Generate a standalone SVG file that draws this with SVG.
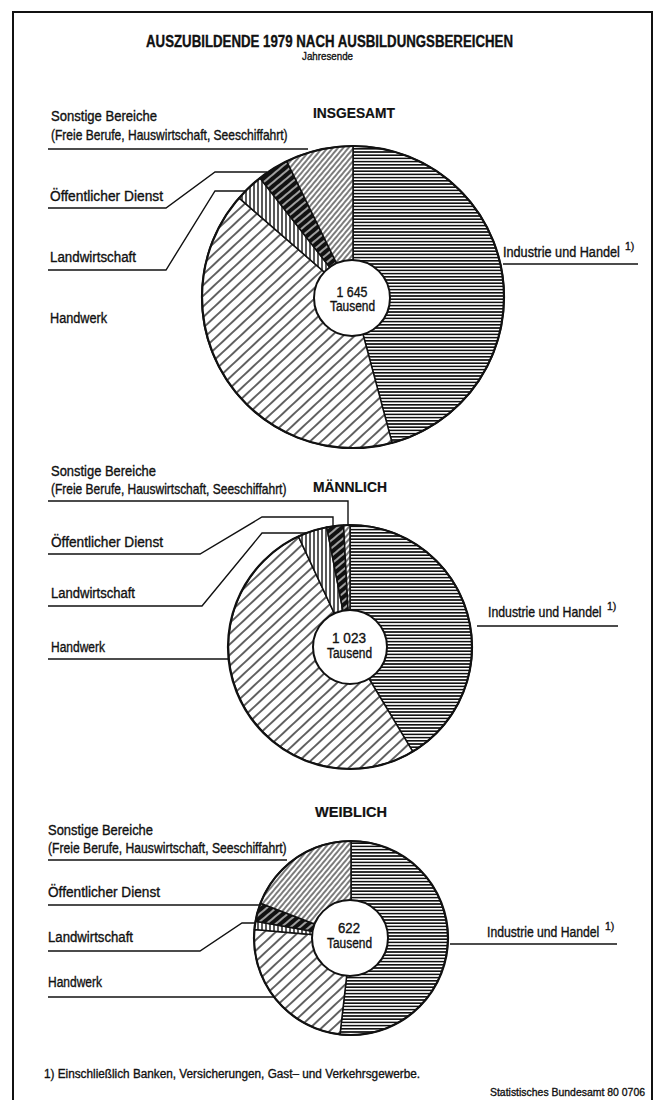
<svg xmlns="http://www.w3.org/2000/svg" width="659" height="1100" viewBox="0 0 659 1100">
<style>
.t{font-family:"Liberation Sans Narrow","Liberation Sans",Arial,sans-serif;fill:#111;stroke:#111;stroke-width:0.35;}
.lab{font-size:14px;}
.hd{font-size:15px;font-weight:bold;stroke-width:0.2;}
.sup{font-size:10.5px;}
.ctr{font-size:14px;text-anchor:middle;}
.ld{fill:none;stroke:#111;stroke-width:1.4;stroke-linejoin:miter;}
.sl{stroke:#111;stroke-width:1.5;stroke-linejoin:round;}
.rim{fill:none;stroke:#111;stroke-width:2.2;}
.hole{fill:#fff;stroke:#111;stroke-width:2;}
.frame{fill:none;stroke:#111;stroke-width:2;}
</style>
<defs>
<pattern id="pInd" width="6" height="3.2" patternUnits="userSpaceOnUse">
<rect width="6" height="3.2" fill="#fff"/>
<line x1="0" y1="1.6" x2="6" y2="1.6" stroke="#111" stroke-width="1.6"/>
</pattern>
<pattern id="pHand" width="10" height="7.8" patternUnits="userSpaceOnUse" patternTransform="rotate(-43)">
<rect width="10" height="7.8" fill="#fff"/>
<line x1="0" y1="3.9" x2="10" y2="3.9" stroke="#111" stroke-width="1.3"/>
</pattern>
<pattern id="pSon" width="10" height="4" patternUnits="userSpaceOnUse" patternTransform="rotate(-50)">
<rect width="10" height="4" fill="#fff"/>
<line x1="0" y1="2" x2="10" y2="2" stroke="#111" stroke-width="1.1"/>
</pattern>
<pattern id="pLand" width="4" height="10" patternUnits="userSpaceOnUse">
<rect width="4" height="10" fill="#fff"/>
<line x1="2" y1="0" x2="2" y2="10" stroke="#111" stroke-width="1.4"/>
</pattern>
<pattern id="pOed" width="10" height="6" patternUnits="userSpaceOnUse" patternTransform="rotate(-40)">
<rect width="10" height="6" fill="#111"/>
<line x1="0" y1="3" x2="10" y2="3" stroke="#fff" stroke-width="1.2"/>
</pattern>
</defs>
<rect width="659" height="1100" fill="#fff"/>
<g id="frame">
<path class="frame" d="M13,1100 L13,12 L652,12 L652,1100"/>
</g>
<g id="title">
<text class="t" x="329.5" y="47" font-size="16" font-weight="bold" stroke-width="0.2" text-anchor="middle" textLength="367" lengthAdjust="spacingAndGlyphs">AUSZUBILDENDE 1979 NACH AUSBILDUNGSBEREICHEN</text>
<text class="t" x="327.5" y="60" font-size="11.5" text-anchor="middle" textLength="51" lengthAdjust="spacingAndGlyphs">Jahresende</text>
</g>

<!-- PIE 1 INSGESAMT -->
<g id="pie-insgesamt">
<text class="t hd" x="313" y="118" textLength="82" lengthAdjust="spacingAndGlyphs">INSGESAMT</text>
<g id="p1-industrie"><path class="sl" fill="url(#pInd)" d="M353,297 L353,146 A151,151 0 0 1 392.1,442.9 Z"/></g>
<g id="p1-handwerk"><path class="sl" fill="url(#pHand)" d="M353,297 L392.1,442.9 A151,151 0 0 1 239.0,197.9 Z"/></g>
<g id="p1-landwirtschaft"><path class="sl" fill="url(#pLand)" d="M353,297 L239.0,197.9 A151,151 0 0 1 260.0,178.0 Z"/></g>
<g id="p1-oed"><path class="sl" fill="url(#pOed)" d="M353,297 L260.0,178.0 A151,151 0 0 1 286.8,161.3 Z"/></g>
<g id="p1-sonstige"><path class="sl" fill="url(#pSon)" d="M353,297 L286.8,161.3 A151,151 0 0 1 353,146 Z"/></g>
<circle class="rim" cx="353" cy="297" r="151"/>
<g id="p1-center">
<circle class="hole" cx="352" cy="298" r="38"/>
<text class="t ctr" x="352" y="297" textLength="31" lengthAdjust="spacingAndGlyphs">1 645</text>
<text class="t ctr" x="352.5" y="311" textLength="45" lengthAdjust="spacingAndGlyphs">Tausend</text>
</g>
</g>
<g id="labels-insgesamt">
<text class="t lab" x="51" y="121" textLength="106" lengthAdjust="spacingAndGlyphs">Sonstige Bereiche</text>
<text class="t lab" transform="translate(51,140) scale(0.861,1)">(Freie Berufe, Hauswirtschaft, Seeschiffahrt)</text>
<text class="t lab" x="50" y="201" textLength="113" lengthAdjust="spacingAndGlyphs">Öffentlicher Dienst</text>
<text class="t lab" x="50" y="262" textLength="86" lengthAdjust="spacingAndGlyphs">Landwirtschaft</text>
<text class="t lab" x="50" y="323" textLength="57" lengthAdjust="spacingAndGlyphs">Handwerk</text>
<text class="t lab" transform="translate(503,257) scale(0.905,1)">Industrie und Handel</text>
<text class="t sup" x="625" y="250">1)</text>
</g>

<!-- PIE 2 MAENNLICH -->
<g id="pie-maennlich">
<text class="t hd" x="313" y="492" textLength="74" lengthAdjust="spacingAndGlyphs">MÄNNLICH</text>
<g id="p2-industrie"><path class="sl" fill="url(#pInd)" d="M350,647 L350,525 A122,122 0 0 1 412.8,751.6 Z"/></g>
<g id="p2-handwerk"><path class="sl" fill="url(#pHand)" d="M350,647 L412.8,751.6 A122,122 0 1 1 298.4,536.4 Z"/></g>
<g id="p2-landwirtschaft"><path class="sl" fill="url(#pLand)" d="M350,647 L298.4,536.4 A122,122 0 0 1 326.7,527.2 Z"/></g>
<g id="p2-oed"><path class="sl" fill="url(#pOed)" d="M350,647 L326.7,527.2 A122,122 0 0 1 343.6,525.2 Z"/></g>
<g id="p2-sonstige"><path class="sl" fill="url(#pSon)" d="M350,647 L343.6,525.2 A122,122 0 0 1 350,525 Z"/></g>
<circle class="rim" cx="350" cy="647" r="122"/>
<g id="p2-center">
<circle class="hole" cx="350" cy="647" r="37"/>
<text class="t ctr" x="349" y="643" textLength="34" lengthAdjust="spacingAndGlyphs">1 023</text>
<text class="t ctr" x="349.5" y="658" textLength="45" lengthAdjust="spacingAndGlyphs">Tausend</text>
</g>
</g>
<g id="labels-maennlich">
<text class="t lab" x="51" y="476" textLength="105" lengthAdjust="spacingAndGlyphs">Sonstige Bereiche</text>
<text class="t lab" transform="translate(51,494) scale(0.857,1)">(Freie Berufe, Hauswirtschaft, Seeschiffahrt)</text>
<text class="t lab" x="51" y="547" textLength="112" lengthAdjust="spacingAndGlyphs">Öffentlicher Dienst</text>
<text class="t lab" x="51" y="598" textLength="84" lengthAdjust="spacingAndGlyphs">Landwirtschaft</text>
<text class="t lab" x="51" y="652" textLength="54" lengthAdjust="spacingAndGlyphs">Handwerk</text>
<text class="t lab" transform="translate(488,617) scale(0.88,1)">Industrie und Handel</text>
<text class="t sup" x="607" y="610">1)</text>
</g>

<!-- PIE 3 WEIBLICH -->
<g id="pie-weiblich">
<text class="t hd" x="315" y="817" textLength="72" lengthAdjust="spacingAndGlyphs">WEIBLICH</text>
<g id="p3-industrie"><path class="sl" fill="url(#pInd)" d="M351,938 L351,841 A97,97 0 1 1 340.0,1034.4 Z"/></g>
<g id="p3-handwerk"><path class="sl" fill="url(#pHand)" d="M351,938 L340.0,1034.4 A97,97 0 0 1 254.4,929.5 Z"/></g>
<g id="p3-landwirtschaft"><path class="sl" fill="url(#pLand)" d="M351,938 L254.4,929.5 A97,97 0 0 1 255.5,921.2 Z"/></g>
<g id="p3-oed"><path class="sl" fill="url(#pOed)" d="M351,938 L255.5,921.2 A97,97 0 0 1 260.4,903.2 Z"/></g>
<g id="p3-sonstige"><path class="sl" fill="url(#pSon)" d="M351,938 L260.4,903.2 A97,97 0 0 1 351,841 Z"/></g>
<circle class="rim" cx="351" cy="938" r="97"/>
<g id="p3-center">
<circle class="hole" cx="350" cy="938" r="38"/>
<text class="t ctr" x="349" y="933" textLength="22" lengthAdjust="spacingAndGlyphs">622</text>
<text class="t ctr" x="349.5" y="948" textLength="45" lengthAdjust="spacingAndGlyphs">Tausend</text>
</g>
</g>
<g id="labels-weiblich">
<text class="t lab" x="48" y="835" textLength="105" lengthAdjust="spacingAndGlyphs">Sonstige Bereiche</text>
<text class="t lab" transform="translate(48,853) scale(0.868,1)">(Freie Berufe, Hauswirtschaft, Seeschiffahrt)</text>
<text class="t lab" x="48" y="897" textLength="112" lengthAdjust="spacingAndGlyphs">Öffentlicher Dienst</text>
<text class="t lab" x="48" y="942" textLength="85" lengthAdjust="spacingAndGlyphs">Landwirtschaft</text>
<text class="t lab" x="48" y="987" textLength="54" lengthAdjust="spacingAndGlyphs">Handwerk</text>
<text class="t lab" transform="translate(487,937) scale(0.87,1)">Industrie und Handel</text>
<text class="t sup" x="605" y="930">1)</text>
</g>

<g id="connectors">
<!-- pie 1 -->
<polyline class="ld" points="48,149 308,149"/>
<polyline class="ld" points="48,208 166,208 215,172 267,172"/>
<polyline class="ld" points="48,270 166,270 215,191 245,191"/>
<polyline class="ld" points="503,264 638,264"/>
<!-- pie 2 -->
<polyline class="ld" points="48,501 348,501 348,525"/>
<polyline class="ld" points="48,554 200,554 262,517 333,517 333,527"/>
<polyline class="ld" points="48,606 202,606 262,533 306,533"/>
<polyline class="ld" points="48,659 229,659"/>
<polyline class="ld" points="477,626 618,626"/>
<!-- pie 3 -->
<polyline class="ld" points="48,860 287,860"/>
<polyline class="ld" points="48,905 260,905"/>
<polyline class="ld" points="48,951 200,951 242,923 255,923"/>
<polyline class="ld" points="48,997 274,997"/>
<polyline class="ld" points="450,944 617,944"/>
</g>

<g id="footer">
<text class="t" x="44" y="1078" font-size="12.5" textLength="376" lengthAdjust="spacingAndGlyphs">1) Einschließlich Banken, Versicherungen, Gast– und Verkehrsgewerbe.</text>
<text class="t" x="490" y="1096" font-size="11.5" textLength="155" lengthAdjust="spacingAndGlyphs">Statistisches Bundesamt 80 0706</text>
</g>
</svg>
